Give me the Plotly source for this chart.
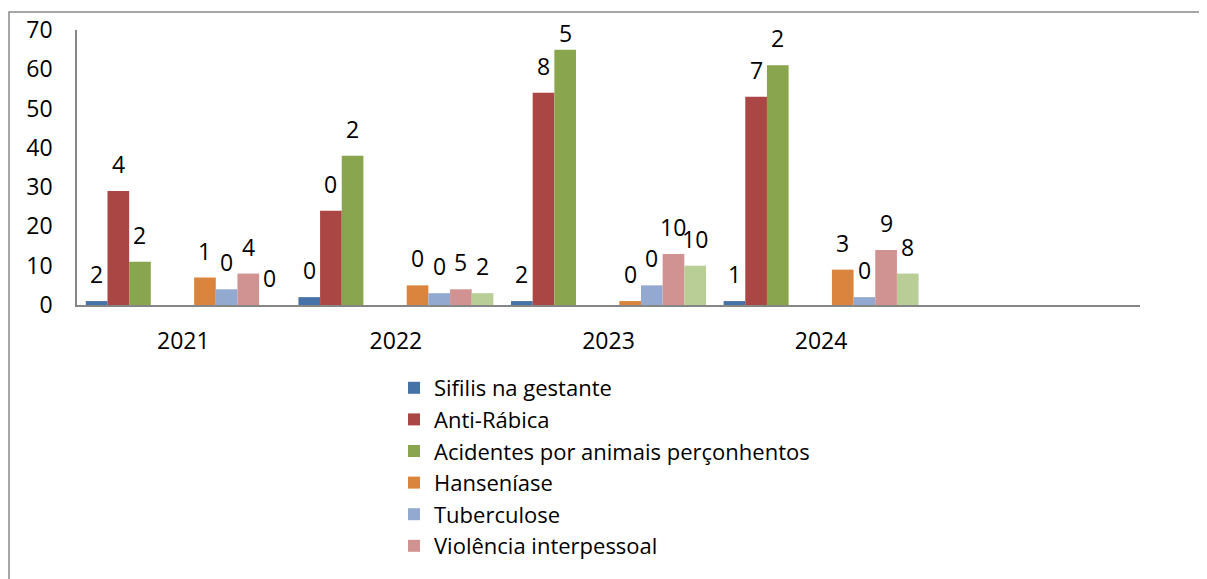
import plotly.graph_objects as go

categories = ["2021", "2022", "2023", "2024", ""]
cat_pos = [0, 1, 2, 3, 4]

series_names = [
    "Sifilis na gestante",
    "Anti-Rábica",
    "Acidentes por animais perçonhentos",
    "Série 4",
    "Série 5",
    "Hanseníase",
    "Tuberculose",
    "Violência interpessoal",
    "Série 9",
]
show_in_legend = [True, True, True, False, False, True, True, True, False]

sifilis = [1, 2, 1, 1, None]
antirabica = [29, 24, 54, 53, None]
acidentes = [11, 38, 65, 61, None]
serie4 = [0, 0, 0, 0, None]
serie5 = [0, 0, 0, 0, None]
hanseniase = [7, 5, 1, 9, None]
tuberculose = [4, 3, 5, 2, None]
violencia = [8, 4, 13, 14, None]
serie9 = [0, 3, 10, 8, None]

# data labels as printed in the chart (they differ from the bar heights)
lab_sifilis = ["2", "0", "2", "1", None]
lab_antirabica = ["4", "0", "8", "7", None]
lab_acidentes = ["2", "2", "5", "2", None]
lab_hanseniase = ["1", "0", "0", "3", None]
lab_tuberculose = ["0", "0", "0", "0", None]
lab_violencia = ["4", "5", "10", "9", None]
lab_serie9 = ["0", "2", "10", "8", None]

values = [sifilis, antirabica, acidentes, serie4, serie5,
          hanseniase, tuberculose, violencia, serie9]
labels = [lab_sifilis, lab_antirabica, lab_acidentes, None, None,
          lab_hanseniase, lab_tuberculose, lab_violencia, lab_serie9]
colors = ["#4572A7", "#AA4643", "#89A54E", "#80699B", "#3D96AE",
          "#DB843D", "#93A9CF", "#D19392", "#B9CD96"]

y_ticks = [0, 10, 20, 30, 40, 50, 60, 70]

FONT = "'Open Sans', Calibri, Carlito, sans-serif"

fig = go.Figure()
n = len(values)
bargap = 0.083
bw = (1 - bargap) / n

for i, (name, vals, col, sl) in enumerate(zip(series_names, values, colors, show_in_legend)):
    fig.add_trace(go.Bar(
        x=cat_pos, y=vals, name=name,
        marker=dict(color=col, line=dict(width=0)),
        showlegend=sl, legendgroup=name,
    ))

# labels above bars
px_per_unit = 275 / 70.0
annotations = []
for i, (vals, labs) in enumerate(zip(values, labels)):
    if labs is None:
        continue
    for c, v, t in zip(cat_pos, vals, labs):
        if t is None or v is None:
            continue
        xc = c - (1 - bargap) / 2 + (i + 0.5) * bw
        ylab = min(v + 27 / px_per_unit, 69.2)
        annotations.append(dict(
            x=xc, y=ylab, xref="x", yref="y", text=t, showarrow=False,
            font=dict(family=FONT, size=23, color="#000000"),
            xanchor="center", yanchor="middle",
        ))

# page offset (body margin) compensation
OFF = 8
L, R, T, B = 77 - OFF, 1140 - OFF, 30 - OFF, 305 - OFF
W, H = R - L, B - T
def px2x(p):
    return (p - OFF - L) / W
def py2y(p):
    return (B - (p - OFF)) / H

shapes = [dict(
    type="rect", xref="paper", yref="paper",
    x0=px2x(9), x1=px2x(1230), y0=py2y(12), y1=py2y(620),
    line=dict(color="#898989", width=1.5), fillcolor="rgba(0,0,0,0)",
    layer="below",
)]

fig.update_layout(
    width=1207, height=579,
    margin=dict(l=L, r=1207 - R, t=T, b=579 - B, autoexpand=False),
    paper_bgcolor="white", plot_bgcolor="white",
    barmode="group", bargap=bargap, bargroupgap=0,
    font=dict(family=FONT, size=23, color="#000000"),
    annotations=annotations,
    shapes=shapes,
    legend=dict(
        x=px2x(394), y=py2y(367), xanchor="left", yanchor="top",
        orientation="v", traceorder="grouped", tracegroupgap=0,
        font=dict(family=FONT, size=22, color="#000000"),
        bgcolor="rgba(0,0,0,0)", itemclick=False,
    ),
    xaxis=dict(
        tickmode="array", tickvals=cat_pos, ticktext=categories,
        range=[-0.5, 4.5], showgrid=False, zeroline=False,
        showline=True, linecolor="#868686", linewidth=1.5,
        ticks="outside", ticklen=15, tickcolor="rgba(0,0,0,0)",
        tickfont=dict(family=FONT, size=23),
        automargin=False,
    ),
    yaxis=dict(
        range=[0, 70], tickvals=y_ticks, showgrid=False, zeroline=False,
        showline=True, linecolor="#868686", linewidth=1.5,
        ticks="outside", ticklen=18, tickcolor="rgba(0,0,0,0)",
        tickfont=dict(family=FONT, size=23),
        automargin=False,
    ),
)

fig.write_html("out.html")
